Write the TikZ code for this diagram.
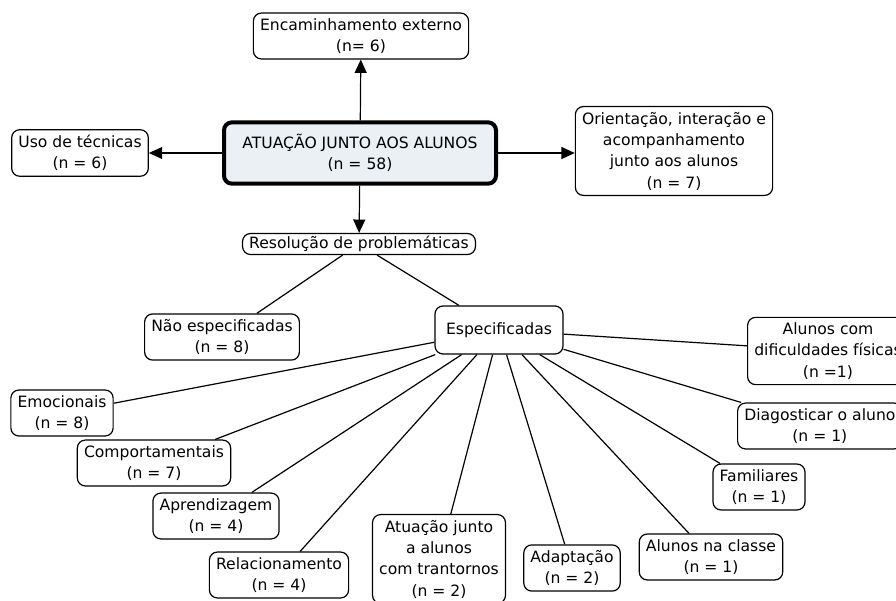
\documentclass[tikz,border=0pt]{standalone}
\usepackage{fontspec}
\setmainfont{DejaVu Sans}
\usepackage{tikz}
\usetikzlibrary{arrows.meta, positioning, shapes}

\definecolor{mainfill}{HTML}{EAF0F3}

\begin{document}
\begin{tikzpicture}[x=0.75pt, y=-0.75pt,
    box/.style={draw, rounded corners=6pt, line width=0.9pt, fill=white, align=center,
        font=\fontsize{11.7}{16}\selectfont, inner xsep=5pt, inner ysep=4pt},
    mainbox/.style={box, line width=3pt, fill=mainfill, minimum width=204pt, minimum height=46pt},
    arr/.style={line width=0.9pt, -{Triangle[length=10pt, width=9pt]}},
    link/.style={line width=0.9pt}]

    \useasboundingbox[fill=white] (0,0) rectangle (896,600);

    % Centre
    \node[mainbox] (main) at (360,153) {ATUAÇÃO JUNTO AOS ALUNOS\\(n = 58)};

    % First level
    \node[box] (encam) at (361,36) {Encaminhamento externo\\(n= 6)};
    \node[box] (tecn) at (80,153) {Uso de técnicas\\(n = 6)};
    \node[box] (orient) at (674,151) {Orientação, interação e\\acompanhamento\\junto aos alunos\\(n = 7)};
    \node[box, inner ysep=2pt] (resol) at (359,244) {Resolução de problemáticas};

    \draw[arr] (main) -- (encam);
    \draw[arr] (main) -- (tecn);
    \draw[arr] (main.east) -- (main.east -| orient.west);
    \draw[arr] (main) -- (resol);

    % Second level
    \node[box] (naoesp) at (222,337) {Não especificadas\\(n = 8)};
    \node[box, minimum width=96pt, minimum height=36pt] (esp) at (499,330) {Especificadas};

    \draw[link] (resol) -- (naoesp);
    \draw[link] (resol) -- (esp);

    % Specified problems
    \node[box, anchor=west] (fisic) at (747,351) {Alunos com\\dificuldades físicas\\(n =1)};
    \node[box, anchor=west] (diag) at (737,426) {Diagosticar o aluno\\(n = 1)};
    \node[box] (famil) at (759,487) {Familiares\\(n = 1)};
    \node[box] (classe) at (711,557) {Alunos na classe\\(n = 1)};
    \node[box] (adapt) at (572,568) {Adaptação\\(n = 2)};
    \node[box] (trans) at (439,559) {Atuação junto\\a alunos\\com trantornos\\(n = 2)};
    \node[box] (relac) at (279,575) {Relacionamento\\(n = 4)};
    \node[box] (aprend) at (216,516) {Aprendizagem\\(n = 4)};
    \node[box] (comport) at (154,463) {Comportamentais\\(n = 7)};
    \node[box] (emoc) at (62,413) {Emocionais\\(n = 8)};

    \foreach \leaf in {fisic, diag, famil, classe, adapt, trans, relac, aprend, comport, emoc}
        \draw[link] (esp) -- (\leaf);
\end{tikzpicture}
\end{document}
